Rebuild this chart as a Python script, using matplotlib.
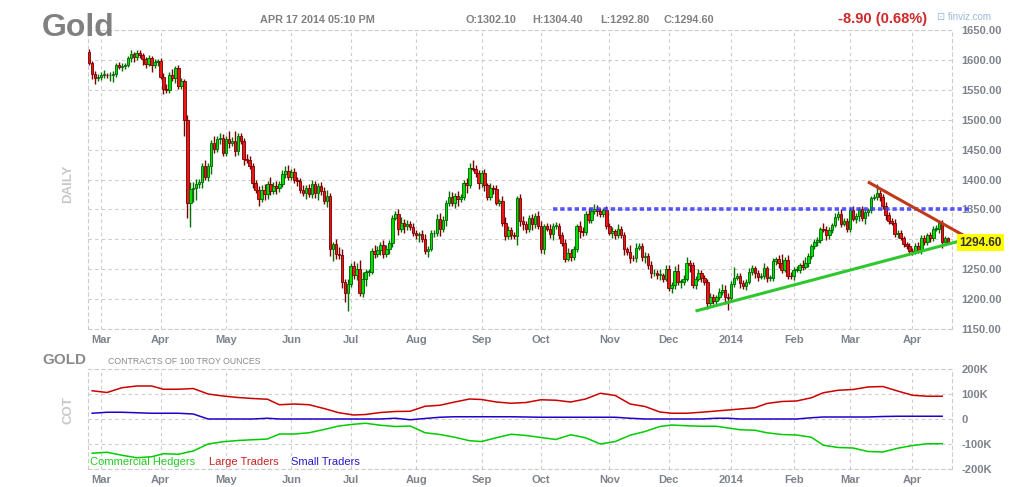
import numpy as np
import pandas as pd
import matplotlib
matplotlib.use("Agg")
import matplotlib.pyplot as plt
from matplotlib.transforms import blended_transform_factory

plt.rcParams['font.family'] = ['Liberation Sans', 'DejaVu Sans']

# ---- daily gold futures (closes + wick sizes) ----
holidays = ["2013-03-29", "2013-05-27", "2013-07-04", "2013-09-02", "2013-11-28",
            "2013-12-25", "2014-01-01", "2014-01-20", "2014-02-17"]
first_open = 1613

c_feb13 = [1594, 1576, 1570, 1572]
c_mar13 = [1575, 1575, 1574, 1575, 1577, 1592, 1588, 1590, 1592, 1603, 1610, 1605, 1612, 1608,
           1601, 1593, 1603, 1592, 1596, 1598]
c_apr13 = [1572, 1551, 1550, 1575, 1570, 1586, 1557, 1564, 1500, 1360, 1384, 1386, 1393, 1395,
           1422, 1405, 1422, 1461, 1451, 1467, 1470, 1445]
c_may13 = [1467, 1461, 1465, 1447, 1472, 1465, 1434, 1433, 1423, 1394, 1383, 1368, 1383, 1375,
           1392, 1380, 1389, 1385, 1392, 1410, 1414, 1405]
c_jun13 = [1412, 1400, 1397, 1383, 1378, 1386, 1375, 1392, 1377, 1389, 1380, 1364, 1372, 1284,
           1292, 1275, 1273, 1228, 1210, 1225]
c_jul13 = [1256, 1240, 1251, 1211, 1234, 1245, 1246, 1280, 1275, 1282, 1290, 1275, 1284, 1293,
           1336, 1342, 1318, 1328, 1323, 1325, 1321, 1311]
c_aug13 = [1308, 1309, 1301, 1281, 1284, 1310, 1311, 1334, 1318, 1333, 1361, 1371, 1361, 1372,
           1367, 1371, 1394, 1390, 1419, 1418, 1411, 1394]
c_sep13 = [1411, 1390, 1371, 1386, 1384, 1361, 1364, 1328, 1306, 1316, 1308, 1306, 1369, 1331,
           1326, 1317, 1336, 1325, 1339, 1323]
c_oct13 = [1283, 1322, 1318, 1309, 1323, 1323, 1308, 1294, 1267, 1277, 1271, 1283, 1322, 1314,
           1312, 1343, 1333, 1347, 1351, 1347, 1343, 1349, 1323]
c_nov13 = [1311, 1314, 1307, 1318, 1307, 1283, 1279, 1269, 1268, 1286, 1289, 1271, 1272, 1257,
           1243, 1243, 1240, 1240, 1234, 1251]
c_dec13 = [1219, 1223, 1247, 1229, 1229, 1234, 1260, 1257, 1223, 1234, 1243, 1236, 1229, 1193,
           1204, 1196, 1203, 1212, 1216, 1204, 1202]
c_jan14 = [1226, 1236, 1238, 1227, 1222, 1229, 1246, 1252, 1243, 1237, 1239, 1252, 1235, 1235,
           1263, 1267, 1260, 1249, 1266, 1239, 1238]
c_feb14 = [1249, 1249, 1257, 1254, 1261, 1272, 1288, 1295, 1299, 1317, 1316, 1307, 1316, 1324,
           1338, 1342, 1326, 1331, 1318]
c_mar14 = [1349, 1334, 1339, 1350, 1335, 1345, 1349, 1369, 1370, 1378, 1370, 1356, 1341, 1331,
           1328, 1309, 1311, 1302, 1292, 1289, 1281]
c_apr14 = [1280, 1289, 1281, 1302, 1295, 1307, 1302, 1318, 1318, 1327, 1296, 1302.1, 1294.6]

up_wick = ([6, 4, 6, 5] +
           [4, 8, 3, 5, 4, 3, 5, 4, 3, 4, 6, 3, 4, 5, 3, 4, 5, 4, 6, 4] +
           [5, 6, 8, 4, 10, 4, 6, 5, 4, 8, 12, 10, 8, 6, 5, 10, 6, 5, 12, 5, 8, 6] +
           [5, 14, 6, 16, 6, 5, 4, 8, 6, 4, 5, 6, 8, 10, 5, 12, 6, 8, 5, 6, 8, 10] +
           [6, 8, 5, 6, 8, 5, 6, 8, 6, 5, 6, 8, 10, 6, 4, 8, 12, 10, 6, 8] +
           [5, 8, 10, 15, 12, 6, 5, 5, 10, 6, 5, 8, 6, 5, 4, 6, 8, 10, 6, 8, 5, 6] +
           [5, 4, 6, 8, 4, 6, 5, 8, 10, 6, 5, 10, 8, 6, 8, 5, 6, 8, 8, 14, 6, 5] +
           [5, 6, 4, 8, 5, 6, 4, 8, 10, 6, 5, 4, 3, 6, 8, 5, 4, 6, 5, 8] +
           [8, 4, 6, 8, 5, 6, 4, 5, 6, 8, 6, 5, 4, 8, 6, 5, 10, 6, 8, 6, 5, 4, 6] +
           [5, 6, 4, 8, 5, 6, 4, 12, 5, 8, 5, 4, 6, 5, 6, 8, 5, 10, 4, 6] +
           [6, 5, 8, 12, 5, 6, 10, 6, 5, 4, 8, 6, 5, 4, 6, 5, 4, 6, 10, 8, 6] +
           [4, 18, 5, 6, 5, 4, 6, 5, 4, 6, 5, 8, 4, 6, 5, 4, 6, 16, 5, 8, 6] +
           [5, 6, 4, 8, 10, 5, 4, 6, 5, 4, 10, 6, 5, 4, 6, 5, 8, 4, 5] +
           [4, 6, 5, 4, 6, 5, 4, 3, 5, 14, 4, 5, 6, 4, 5, 6, 4, 5, 3, 4, 5] +
           [5, 4, 6, 5, 6, 4, 5, 4, 6, 4, 5, 3, 2.3])
dn_wick = ([3, 8, 10, 6] +
           [5, 6, 4, 10, 12, 5, 4, 6, 5, 4, 6, 8, 5, 4, 10, 6, 4, 12, 5, 6] +
           [4, 8, 6, 5, 6, 8, 5, 6, 27, 25, 39, 22, 20, 8, 10, 6, 8, 12, 6, 5, 8, 6] +
           [6, 8, 5, 8, 6, 6, 10, 6, 5, 8, 6, 12, 6, 10, 8, 6, 5, 10, 6, 4, 8, 5] +
           [5, 6, 8, 5, 6, 10, 5, 6, 8, 12, 6, 5, 10, 12, 20, 8, 6, 10, 15, 30] +
           [4, 6, 8, 6, 8, 12, 6, 4, 6, 5, 8, 6, 5, 8, 6, 4, 10, 6, 12, 8, 6, 5] +
           [8, 12, 5, 6, 10, 4, 6, 5, 12, 6, 10, 5, 6, 8, 12, 4, 6, 12, 5, 4, 6, 10] +
           [6, 10, 5, 6, 8, 4, 6, 5, 8, 6, 8, 6, 16, 8, 10, 6, 5, 10, 6, 5] +
           [6, 8, 4, 6, 10, 5, 8, 6, 5, 4, 8, 6, 5, 12, 6, 4, 5, 6, 5, 8, 6, 5, 6] +
           [4, 8, 6, 5, 4, 10, 6, 8, 5, 6, 4, 8, 10, 6, 8, 5, 6, 8, 5, 4] +
           [5, 8, 6, 5, 10, 6, 4, 12, 5, 6, 4, 8, 6, 10, 6, 5, 8, 4, 5, 12, 20] +
           [6, 5, 4, 8, 5, 6, 4, 5, 8, 6, 4, 5, 6, 5, 4, 6, 8, 5, 4, 6, 5] +
           [6, 4, 5, 6, 4, 8, 5, 4, 6, 5, 4, 8, 6, 5, 4, 6, 5, 4, 6] +
           [5, 4, 6, 8, 5, 10, 6, 5, 4, 5, 6, 5, 8, 6, 4, 5, 6, 4, 5, 6, 4] +
           [6, 5, 4, 6, 5, 4, 6, 5, 4, 8, 10, 6, 1.8])

# ---- COT weekly positions, thousands of contracts ----
cot_start = "2013-02-26"
commercial = [-137, -133, -145, -155, -151, -139, -141, -128, -100, -91, -86, -83, -80, -60,
              -60, -55, -42, -28, -21, -17, -25, -30, -28, -55, -62, -73, -87, -90, -75, -61,
              -66, -74, -82, -63, -75, -100, -90, -65, -50, -30, -24, -27, -29, -29, -36, -43,
              -45, -55, -62, -64, -73, -105, -114, -116, -130, -132, -117, -106, -99, -99]
large = [113, 106, 125, 132, 132, 119, 119, 122, 100, 92, 86, 82, 79, 57, 60, 57, 42, 25, 16,
         18, 26, 30, 31, 51, 55, 68, 80, 78, 68, 63, 66, 77, 75, 68, 80, 103, 94, 60, 50, 28,
         23, 23, 27, 32, 36, 40, 45, 62, 70, 72, 85, 105, 115, 118, 128, 130, 112, 95, 91, 91]
small = [23, 27, 27, 25, 23, 23, 23, 20, 0, 0, 0, 0, 3, 0, 0, 0, 0, 0, 0, 0, 0, 3, -3, 2, 7,
         9, 9, 9, 9, 9, 8, 7, 7, 7, 7, 7, 7, 3, 0, 0, 0, 0, 0, 3, 3, 0, 0, 0, 0, 0, 5, 8, 8, 8,
         8, 10, 11, 11, 11, 11]

# ---- drawn lines: (date, price) anchors ----
resistance = 1350
resistance_from = "2013-10-07"
up_trend = [("2013-12-13", 1180), ("2014-04-17", 1292)]
down_trend = [("2014-03-11", 1396), ("2014-04-17", 1321)]

# ---------------------------------------------------------------
dates = pd.bdate_range("2013-02-25", "2014-04-17")
dates = dates[~dates.isin(pd.to_datetime(holidays))]
close = np.array(c_feb13 + c_mar13 + c_apr13 + c_may13 + c_jun13 + c_jul13 + c_aug13 +
                 c_sep13 + c_oct13 + c_nov13 + c_dec13 + c_jan14 + c_feb14 + c_mar14 + c_apr14,
                 dtype=float)
n = len(close)
x = np.arange(n)
opn = np.r_[first_open, close[:-1]]
high = np.maximum(opn, close) + np.array(up_wick)
low = np.minimum(opn, close) - np.array(dn_wick)
rise = close >= opn

W, H = 1017, 487
fig = plt.figure(figsize=(W / 100, H / 100), dpi=100)
ax = fig.add_axes([88 / W, 1 - 329 / H, 864 / W, 299 / H])
ax2 = fig.add_axes([88 / W, 1 - 469 / H, 864 / W, 100 / H])

grid_kw = dict(color="#cccccc", linestyle=(0, (3, 3)), linewidth=0.8)
tick_col = "#7d838c"

# month ticks
month_idx = [i for i in range(1, n) if dates[i].month != dates[i - 1].month]
month_lab = [str(dates[i].year) if dates[i].month == 1 else dates[i].strftime("%b")
             for i in month_idx]

for a in (ax, ax2):
    a.set_xlim(-0.4, n + 0.3)
    a.set_xticks(month_idx)
    a.set_xticklabels(month_lab)
    a.grid(True, **grid_kw)
    a.set_axisbelow(True)
    for s in a.spines.values():
        s.set_color("#cccccc")
        s.set_linestyle((0, (3, 3)))
        s.set_linewidth(0.8)
    a.yaxis.tick_right()
    a.tick_params(length=0, labelsize=8, labelcolor=tick_col)
    a.tick_params(axis="y", pad=7)
    a.tick_params(axis="x", pad=4)
    for lab in a.get_xticklabels() + a.get_yticklabels():
        lab.set_fontweight("bold")

# candles
ax.set_ylim(1150, 1650)
yt = np.arange(1150, 1651, 50)
ax.set_yticks(yt)
ax.set_yticklabels(["" if v == 1300 else f"{v:.2f}" for v in yt], fontweight="bold")
ax.vlines(x, low, high, colors=np.where(rise, "#007000", "#7a0000"), linewidth=1.0, zorder=2)
ax.bar(x, np.maximum(np.abs(close - opn), 1.2), bottom=np.minimum(opn, close), width=0.85,
       color=np.where(rise, "#00e000", "#f01414"),
       edgecolor=np.where(rise, "#006000", "#700000"), linewidth=0.6, zorder=3)

# trend lines
def pos(d):
    return dates.searchsorted(pd.Timestamp(d))

r0 = pos(resistance_from)
ax.plot([r0, n + 6.5], [resistance, resistance], color="#3a3aff", alpha=0.85,
        linestyle=(0, (1.2, 0.8)), linewidth=2.6, clip_on=False, zorder=6)

for line, col, ext in ((up_trend, "#2ec82e", 5), (down_trend, "#c0391a", 6)):
    (d0, p0), (d1, p1) = line
    i0, i1 = pos(d0), pos(d1)
    slope = (p1 - p0) / (i1 - i0)
    ax.plot([i0, i1 + ext], [p0, p1 + slope * ext], color=col, linewidth=2.2,
            clip_on=False, zorder=6, solid_capstyle="butt")

tr = blended_transform_factory(ax.transAxes, ax.transData)
ax.text(1 + 7 / 864, close[-1], f"{close[-1]:.2f}", transform=tr, ha="left", va="center",
        fontsize=8.5, fontweight="bold", color="#333333", zorder=8,
        bbox=dict(facecolor="#ffff00", edgecolor="none", pad=1.6))

# COT panel
cot_dates = pd.date_range(cot_start, periods=len(large), freq="7D")
cx = dates.searchsorted(cot_dates)
ax2.plot(cx, large, color="#cc0000", linewidth=1.1)
ax2.plot(cx, small, color="#2200cc", linewidth=1.1)
ax2.plot(cx, commercial, color="#00cc00", linewidth=1.1)
ax2.set_ylim(-200, 200)
ax2.set_yticks([-200, -100, 0, 100, 200])
ax2.set_yticklabels(["-200K", "-100K", "0", "100K", "200K"], fontweight="bold")

ax2.text(0.002, 0.07, "Commercial Hedgers", color="#22cc22", fontsize=8,
         transform=ax2.transAxes, va="center")
ax2.text(0.140, 0.07, "Large Traders", color="#cc2222", fontsize=8,
         transform=ax2.transAxes, va="center")
ax2.text(0.235, 0.07, "Small Traders", color="#2a1acc", fontsize=8,
         transform=ax2.transAxes, va="center")

# header / side labels
def ftext(px, py, s, **kw):
    fig.text(px / W, 1 - py / H, s, **kw)

ftext(42, 28, "Gold", fontsize=23, fontweight="bold", color="#808080", va="center")
ftext(260, 20, "APR 17 2014 05:10 PM", fontsize=7.8, fontweight="bold", color="#808080",
      va="center")
for px, s in ((465, "O:1302.10"), (532, "H:1304.40"), (600, "L:1292.80"), (664, "C:1294.60")):
    ftext(px, 20, s, fontsize=7.8, fontweight="bold", color="#808080", va="center")
ftext(838, 19, "-8.90 (0.68%)", fontsize=10.5, fontweight="bold", color="#d02828", va="center")
ftext(937, 17, "\u22a1 finviz.com", fontsize=7, color="#9ab8dc", va="center",
      family=["Liberation Sans", "DejaVu Sans"])
ftext(68, 184, "DAILY", fontsize=9.5, fontweight="bold", color="#c8c8c8", rotation=90,
      ha="center", va="center")
ftext(42, 360, "GOLD", fontsize=11, fontweight="bold", color="#8a8a8a", va="center")
ftext(108, 362, "CONTRACTS OF 100 TROY OUNCES", fontsize=6.3, color="#8a8a8a", va="center")
ftext(68, 410, "COT", fontsize=9.5, fontweight="bold", color="#c8c8c8", rotation=90,
      ha="center", va="center")

fig.savefig("out.png", dpi=100)
